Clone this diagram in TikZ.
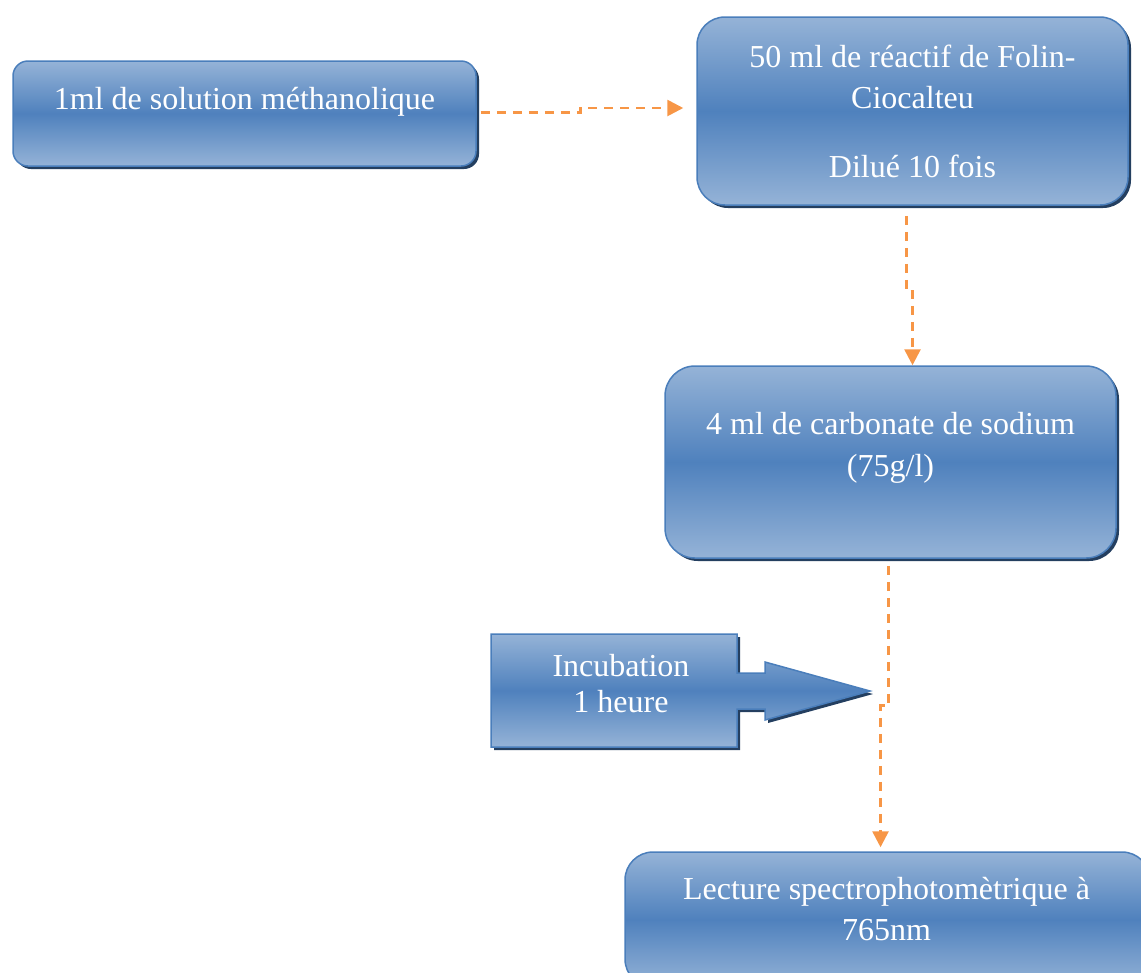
\documentclass[tikz,border=0pt]{standalone}
\usepackage{fontspec}
\setmainfont{Liberation Serif}
\usetikzlibrary{positioning, calc, arrows.meta, shadows}
\definecolor{boxlight}{HTML}{95B3D7}
\definecolor{boxmid}{HTML}{4F81BD}
\definecolor{boxline}{HTML}{4A7EBB}
\definecolor{boxshadow}{HTML}{243F60}
\definecolor{flowline}{HTML}{F79646}
\newlength{\pxu}
\setlength{\pxu}{0.75pt}

\begin{document}
\begin{tikzpicture}[x=0.75pt, y=-0.75pt,
	stepbox/.style={draw=boxline, line width=1.5\pxu, top color=boxlight, bottom color=boxlight, middle color=boxmid,
		drop shadow={shadow xshift=3\pxu, shadow yshift=-3\pxu, fill=boxshadow, opacity=1}},
	boxtext/.style={text=white, font=\fontsize{24}{31}\selectfont, align=center, inner sep=0},
	flow/.style={flowline, line width=2pt, dash pattern=on 6.75pt off 5.25pt, -{Triangle[length=12pt, width=12pt]}}]
\useasboundingbox (0,0) rectangle (1141,972);
\clip (0,0) rectangle (1141,972);
% boxes
\node[stepbox, rounded corners=15\pxu, minimum width=463\pxu, minimum height=105\pxu] (meth) at (244.5,113.5) {};
\node[boxtext] (methtext) at ($(meth)+(0,-12)$) {1ml de solution méthanolique};
\node[stepbox, rounded corners=28\pxu, minimum width=431\pxu, minimum height=188\pxu] (folin) at (912.5,111) {};
\node[boxtext] (folintext) at (folin) {50 ml de réactif de Folin-\\Ciocalteu\\[20.5pt]Dilué 10 fois};
\node[stepbox, rounded corners=30\pxu, minimum width=451\pxu, minimum height=192\pxu] (carb) at (890.5,462) {};
\node[boxtext] (carbtext) at ($(carb)+(0,-14)$) {4 ml de carbonate de sodium\\(75g/l)};
\node[stepbox, rounded corners=28\pxu, minimum width=525\pxu, minimum height=135\pxu] (lect) at (887.5,919.5) {};
\node[boxtext] (lecttext) at (886.5,909) {Lecture spectrophotomètrique à\\765nm};
% incubation callout
\path[stepbox] (491,634) -- (737,634) -- (737,673) -- (765,673) -- (765,662) -- (870,691)
	-- (765,720) -- (765,709) -- (737,709) -- (737,747) -- (491,747) -- cycle;
\node[boxtext] (incub) at (621,683.5) {Incubation\\[-3.5pt]1 heure};
% connectors
\draw[flow] ($(meth.east)+(4,-1)$) -- ++(100,0) |- ($(folin.west)+(-13,-3)$);
\draw[flow] ($(folin.south)+(-6,10)$) -- ++(0,76) -| ($(carb.north)+(22,0)$);
\draw[flow] ($(carb.south)+(-2,7)$) -- ++(0,140) -| ($(lect.north)+(-7,-4)$);
\end{tikzpicture}
\end{document}
